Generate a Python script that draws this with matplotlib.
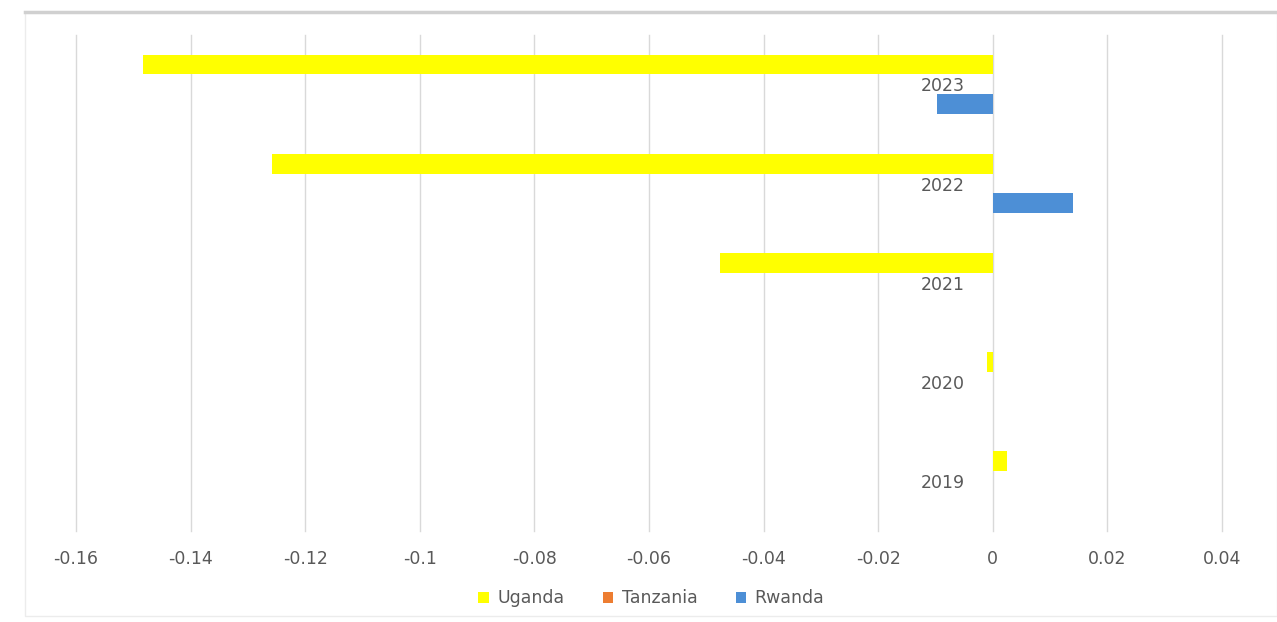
import matplotlib
matplotlib.use("Agg")
import matplotlib.pyplot as plt
import numpy as np
from matplotlib.patches import Rectangle
from matplotlib.lines import Line2D

# data
years = ["2019", "2020", "2021", "2022", "2023"]
uganda = [0.0024, -0.001, -0.0476, -0.1258, -0.1483]
tanzania = [0.0, 0.0, 0.0, 0.0, 0.0]
rwanda = [0.0, 0.0, 0.0, 0.014, -0.0097]
xticks = [-0.16, -0.14, -0.12, -0.10, -0.08, -0.06, -0.04, -0.02, 0.0, 0.02, 0.04]
xtick_labels = ["-0.16", "-0.14", "-0.12", "-0.1", "-0.08", "-0.06", "-0.04",
                "-0.02", "0", "0.02", "0.04"]

plt.rcParams['font.family'] = ['DejaVu Sans']
grey = '#595959'

fig = plt.figure(figsize=(12.77, 6.22), dpi=100)

# faint chart frame + top rule
fig.patches.append(Rectangle((25 / 1277, 0.01), 1 - 25 / 1277, 1 - 12 / 622 - 0.01,
                             transform=fig.transFigure, fill=False,
                             edgecolor='#ececec', linewidth=1))
fig.lines.append(Line2D([25 / 1277, 1], [1 - 12 / 622] * 2, transform=fig.transFigure,
                        color='#d0d0d0', linewidth=2.5))

ax = fig.add_axes([76 / 1277, 0.147, (1222 - 76) / 1277, 0.797])

y = np.arange(len(years))
h = 0.2
ax.barh(y + h, uganda, height=h, color='#FFFF00', label='Uganda', linewidth=0, zorder=3)
ax.barh(y, tanzania, height=h, color='#ED7D31', label='Tanzania', linewidth=0, zorder=3)
ax.barh(y - h, rwanda, height=h, color='#4D8FD6', label='Rwanda', linewidth=0, zorder=3)

ax.set_xlim(-0.16, 0.04)
ax.set_ylim(-0.5, len(years) - 0.5)
ax.set_xticks(xticks)
ax.set_xticklabels(xtick_labels)
ax.set_yticks(y)
ax.set_yticklabels(years)
ax.grid(True, axis='x', color='#d9d9d9', linewidth=1, zorder=0)
for gl in ax.get_xgridlines():
    gl.set_clip_on(False)

for s in ['top', 'right', 'bottom']:
    ax.spines[s].set_visible(False)
ax.spines['left'].set_position(('data', 0))
ax.spines['left'].set_visible(False)
ax.tick_params(axis='x', length=0, pad=14, labelsize=12.5, labelcolor=grey)
ax.tick_params(axis='y', length=0, pad=20, labelsize=12.5, labelcolor=grey)

fig.legend(loc='center', bbox_to_anchor=(0.51, 0.038), ncol=3, frameon=False,
           fontsize=12.5, labelcolor=grey, handlelength=0.6, handleheight=0.6,
           handletextpad=0.5, columnspacing=2.2)

fig.savefig('out.png', dpi=100)
